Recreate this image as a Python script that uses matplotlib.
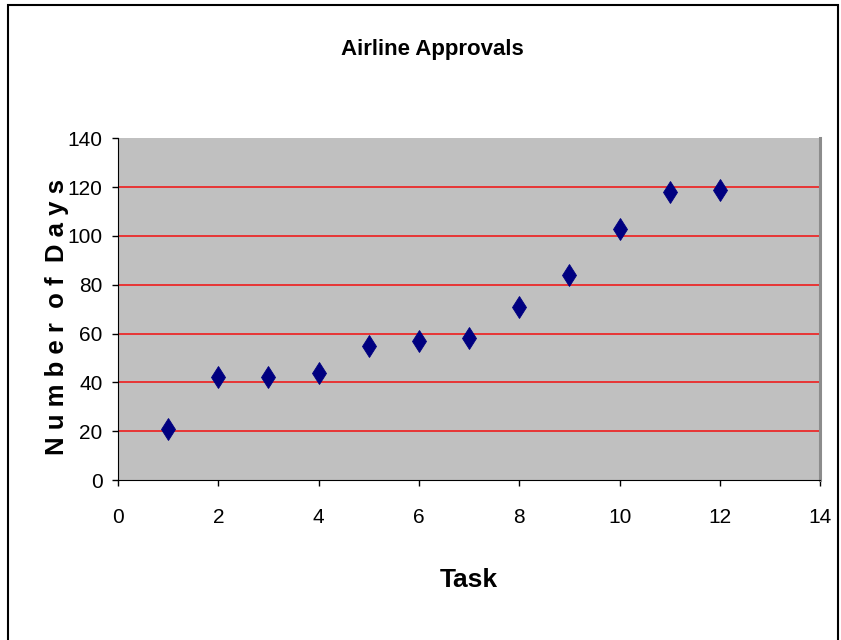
import matplotlib
matplotlib.use("Agg")
import matplotlib.pyplot as plt
from matplotlib.patches import Rectangle

# data
tasks = [1, 2, 3, 4, 5, 6, 7, 8, 9, 10, 11, 12]
days = [21, 42, 42, 44, 55, 57, 58, 71, 84, 103, 118, 119]

plt.rcParams['font.family'] = ['Liberation Sans', 'DejaVu Sans']

fig = plt.figure(figsize=(8.41, 6.4), dpi=100)
ax = fig.add_axes([0.1403, 0.25, 0.835, 0.534])

# outer frame of the chart
fig.patches.append(Rectangle((0.0095, -0.01), 0.987, 1.002, transform=fig.transFigure,
                             fill=False, edgecolor='black', linewidth=1.5))

ax.set_facecolor('#C0C0C0')
ax.set_xlim(0, 14)
ax.set_ylim(0, 140)
ax.set_xticks(range(0, 15, 2))
ax.set_yticks(range(0, 141, 20))

for y in range(20, 140, 20):
    ax.axhline(y, color='#E83535', linewidth=1.4, zorder=1)

ax.plot(tasks, days, linestyle='none', marker='d', markersize=11.5,
        color='#000080', markeredgewidth=0.6, zorder=3)

ax.spines['top'].set_visible(False)
ax.spines['right'].set_color('#8C8C8C')
ax.spines['right'].set_linewidth(2.2)
ax.spines['left'].set_color('black')
ax.spines['bottom'].set_color('black')

ax.tick_params(axis='both', direction='out', length=4, width=1, labelsize=15)
ax.tick_params(axis='y', pad=7)
ax.tick_params(axis='x', pad=16)

ax.set_title('Airline Approvals', fontsize=16, fontweight='bold',
             x=0.447, y=1.26, va='center', pad=0)
ax.set_xlabel('Task', fontsize=19, fontweight='bold', va='center')
ax.xaxis.set_label_coords(0.5, -0.292)
ax.set_ylabel('N u m b e r  o f  D a y s', fontsize=18.5, fontweight='bold',
              va='center', ha='center')
ax.yaxis.set_label_coords(-0.087, 0.477)

fig.savefig('out.png', dpi=100)
